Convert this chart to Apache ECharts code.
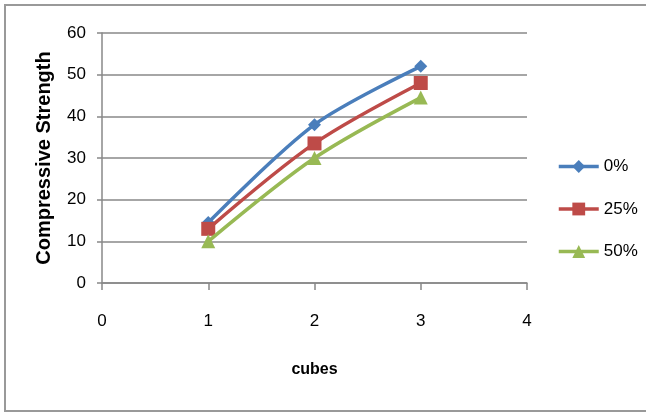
<!DOCTYPE html>
<html>
<head>
<meta charset="utf-8">
<script src="https://cdn.jsdelivr.net/npm/echarts@6/dist/echarts.min.js"></script>
<style>html,body{margin:0;padding:0;background:#fff;}#c{width:646px;height:414px;}</style>
</head>
<body>
<div id="c"></div>
<script>
const cubes = [1, 2, 3];
const seriesNames = ['0%', '25%', '50%'];
const s0 = [14.5, 38, 52];
const s25 = [13, 33.5, 48];
const s50 = [10, 30, 44.5];
const yTicks = [0, 10, 20, 30, 40, 50, 60];
const xTicks = [0, 1, 2, 3, 4];

const colors = ['#4A7EBB', '#BE4B48', '#98B954'];
const symbols = ['diamond', 'rect', 'triangle'];
const symbolSizes = [13, 14, 14];
const values = [s0, s25, s50];
const font = 'Liberation Sans';

const chart = echarts.init(document.getElementById('c'), null, {renderer: 'canvas'});
chart.setOption({
  animation: false,
  backgroundColor: '#fff',
  graphic: [{
    type: 'polyline', z: -1, silent: true,
    shape: {points: [[660, 5], [5, 5], [5, 411], [660, 411]]},
    style: {fill: 'none', stroke: '#999', lineWidth: 2}
  }],
  grid: {left: 102, right: 119, top: 33, bottom: 131, containLabel: false},
  legend: {
    orient: 'vertical', left: 557, top: 158, padding: 0,
    itemWidth: 40, itemHeight: 16, itemGap: 25.5,
    data: seriesNames,
    lineStyle: {width: 3.5},
    textStyle: {fontFamily: font, fontSize: 17, color: '#000'}
  },
  xAxis: {
    type: 'value', min: xTicks[0], max: xTicks[xTicks.length - 1], interval: 1,
    name: 'cubes', nameLocation: 'middle', nameGap: 79,
    nameTextStyle: {fontFamily: font, fontSize: 16, fontWeight: 'bold', color: '#000'},
    axisLine: {show: true, lineStyle: {color: '#888', width: 1.5}},
    axisTick: {show: true, length: 7, lineStyle: {color: '#888', width: 1.5}},
    axisLabel: {fontFamily: font, fontSize: 17, color: '#000', margin: 30},
    splitLine: {show: false}
  },
  yAxis: {
    type: 'value', min: yTicks[0], max: yTicks[yTicks.length - 1], interval: 10,
    name: 'Compressive Strength', nameLocation: 'middle', nameGap: 48,
    nameTextStyle: {fontFamily: font, fontSize: 20, fontWeight: 'bold', color: '#000'},
    axisLine: {show: true, lineStyle: {color: '#888', width: 1.5}},
    axisTick: {show: true, length: 5, lineStyle: {color: '#888', width: 1.5}},
    axisLabel: {fontFamily: font, fontSize: 17, color: '#000', margin: 16},
    splitLine: {show: true, lineStyle: {color: '#888', width: 1.5}}
  },
  series: seriesNames.map((n, i) => ({
    name: n, type: 'line', smooth: 0.3,
    data: cubes.map((c, j) => [c, values[i][j]]),
    symbol: symbols[i], symbolSize: symbolSizes[i],
    lineStyle: {color: colors[i], width: 3.5},
    itemStyle: {color: colors[i]},
    z: 3 + i
  }))
});
</script>
</body>
</html>
